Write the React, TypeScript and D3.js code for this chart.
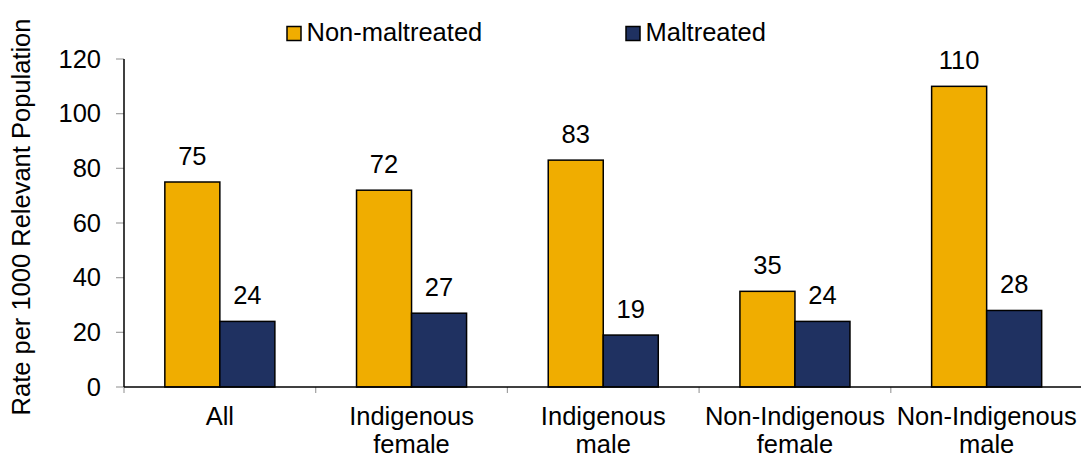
import React, { useEffect, useRef } from 'react';
import * as d3 from 'd3';

const categories = ['All', 'Indigenous female', 'Indigenous male', 'Non-Indigenous female', 'Non-Indigenous male'];
const categoryLines = [['All'], ['Indigenous', 'female'], ['Indigenous', 'male'], ['Non-Indigenous', 'female'], ['Non-Indigenous', 'male']];
const seriesNames = ['Non-maltreated', 'Maltreated'];
const nonMaltreated = [75, 72, 83, 35, 110];
const maltreated = [24, 27, 19, 24, 28];
const yTicks = [0, 20, 40, 60, 80, 100, 120];

const colors = ['#F0AD00', '#1F3161'];
const FONT = '"Liberation Sans", Arial, sans-serif';

const App: React.FC = () => {
  const svgRef = useRef<SVGSVGElement>(null);

  useEffect(() => {
    if (!svgRef.current) return;
    const svg = d3.select(svgRef.current);
    svg.selectAll('*').remove();

    const width = 1081;
    const height = 457;
    const fs = 25.5;

    const y = d3.scaleLinear().domain([0, 120]).range([387, 59]);
    const x = d3.scaleBand<string>()
      .domain(categories)
      .range([124, 1082.5])
      .paddingInner(0.426)
      .paddingOuter(0.213);
    const x1 = d3.scaleBand<string>().domain(seriesNames).range([0, x.bandwidth()]);

    const g = svg.append('g');

    // y axis ticks + labels
    yTicks.forEach(t => {
      g.append('line')
        .attr('x1', 116).attr('x2', 124)
        .attr('y1', y(t)).attr('y2', y(t))
        .attr('stroke', '#a0a0a0').attr('stroke-width', 1.2);
      g.append('text')
        .attr('x', 101).attr('y', y(t) + 8.5)
        .attr('text-anchor', 'end')
        .attr('font-family', FONT).attr('font-size', fs)
        .attr('fill', '#000')
        .text(t);
    });

    // x axis category boundary ticks
    for (let i = 0; i <= categories.length; i++) {
      const bx = x.range()[0] + i * x.step();
      g.append('line')
        .attr('x1', bx).attr('x2', bx)
        .attr('y1', y(0)).attr('y2', y(0) + 6)
        .attr('stroke', '#a0a0a0').attr('stroke-width', 1.2);
    }

    // bars
    const series = [nonMaltreated, maltreated];
    series.forEach((vals, si) => {
      vals.forEach((v, ci) => {
        const bx = (x(categories[ci]) as number) + (x1(seriesNames[si]) as number);
        g.append('rect')
          .attr('x', bx).attr('y', y(v))
          .attr('width', x1.bandwidth()).attr('height', y(0) - y(v))
          .attr('fill', colors[si])
          .attr('stroke', '#000').attr('stroke-width', 1.5);
        g.append('text')
          .attr('x', bx + x1.bandwidth() / 2).attr('y', y(v) - 17)
          .attr('text-anchor', 'middle')
          .attr('font-family', FONT).attr('font-size', fs)
          .attr('fill', '#000')
          .text(v);
      });
    });

    // axis lines
    g.append('line')
      .attr('x1', 124).attr('x2', 124).attr('y1', y(120)).attr('y2', y(0))
      .attr('stroke', '#000').attr('stroke-width', 1.5);
    g.append('line')
      .attr('x1', 124).attr('x2', width + 2).attr('y1', y(0)).attr('y2', y(0))
      .attr('stroke', '#000').attr('stroke-width', 1.5);

    // category labels
    categories.forEach((c, ci) => {
      const cx = (x(c) as number) + x.bandwidth() / 2;
      const t = g.append('text')
        .attr('text-anchor', 'middle')
        .attr('font-family', FONT).attr('font-size', fs)
        .attr('fill', '#000');
      categoryLines[ci].forEach((line, li) => {
        t.append('tspan').attr('x', cx).attr('y', 425 + li * 27.5).text(line);
      });
    });

    // y axis title
    g.append('text')
      .attr('transform', `translate(30,217) rotate(-90)`)
      .attr('text-anchor', 'middle')
      .attr('font-family', FONT).attr('font-size', fs)
      .attr('fill', '#000')
      .text('Rate per 1000 Relevant Population');

    // legend
    const legendX = [287, 626];
    seriesNames.forEach((name, si) => {
      g.append('rect')
        .attr('x', legendX[si]).attr('y', 26.5)
        .attr('width', 14).attr('height', 14)
        .attr('fill', colors[si])
        .attr('stroke', '#000').attr('stroke-width', 1.5);
      g.append('text')
        .attr('x', legendX[si] + 19.5).attr('y', 41)
        .attr('font-family', FONT).attr('font-size', fs)
        .attr('fill', '#000')
        .text(name);
    });

    svg.attr('width', width).attr('height', height);
  }, []);

  return (
    <div style={{ position: 'absolute', left: 0, top: 0, width: 1081, height: 457, background: '#fff', overflow: 'hidden' }}>
      <svg ref={svgRef} width={1081} height={457} style={{ display: 'block' }} />
    </div>
  );
};

export default App;
